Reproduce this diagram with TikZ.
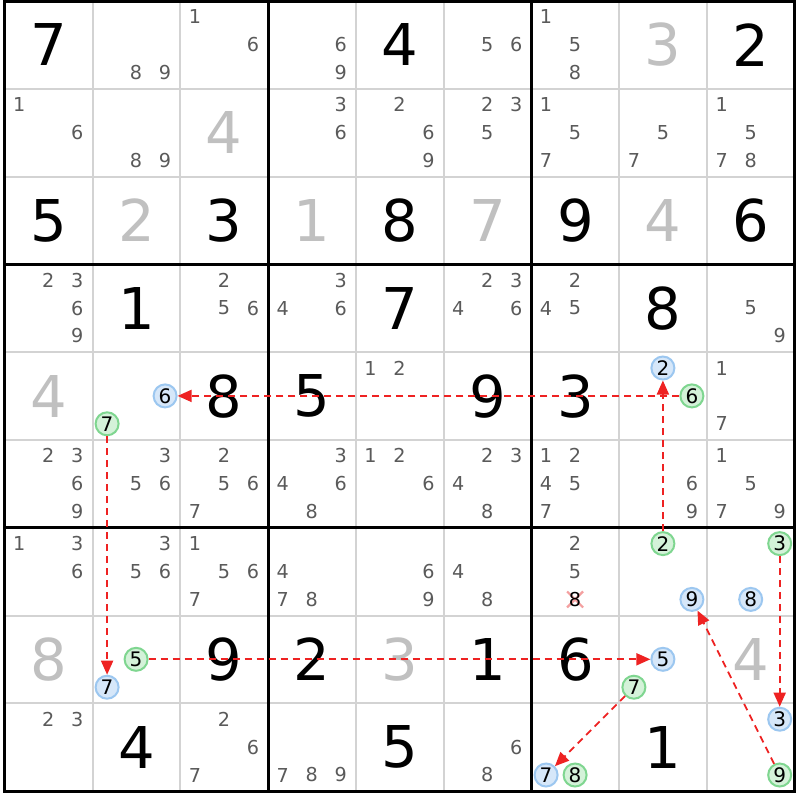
\documentclass[tikz,border=0pt]{standalone}
\usepackage{fontspec}
\setmainfont{DejaVu Sans}
\usetikzlibrary{arrows.meta}
\definecolor{candgray}{HTML}{5A5A5A}
\definecolor{solvedgray}{HTML}{C0C0C0}
\definecolor{thingrid}{HTML}{D3D3D3}
\definecolor{bluefill}{HTML}{D6E7F9}
\definecolor{blueline}{HTML}{9CC7F0}
\definecolor{greenfill}{HTML}{D4F2D9}
\definecolor{greenline}{HTML}{7FD690}
\definecolor{arrowred}{HTML}{EE2222}
\definecolor{crossred}{HTML}{F4A0A0}
\tikzset{
  cand/.style={inner sep=0pt, text=candgray, font=\fontsize{9.6}{10}\selectfont},
  given/.style={inner sep=0pt, text=black, font=\fontsize{28.8}{30}\selectfont},
  solved/.style={inner sep=0pt, text=solvedgray, font=\fontsize{28.8}{30}\selectfont},
  bluec/.style={circle, draw=blueline, fill=bluefill, line width=1pt, minimum size=11.5pt, inner sep=0pt, text=black, font=\fontsize{10}{10}\selectfont},
  greenc/.style={circle, draw=greenline, fill=greenfill, line width=1pt, minimum size=11.5pt, inner sep=0pt, text=black, font=\fontsize{10}{10}\selectfont},
  chain/.style={draw=arrowred, line width=0.9pt, dash pattern=on 3.5pt off 2.5pt, -{Triangle[length=7pt,width=6pt]}},
  thinline/.style={draw=thingrid, line width=1pt},
  thickline/.style={draw=black, line width=1.5pt},
}
\newcommand\Given[3]{\node[given] (g#1#2) at ({4.7+87.8*(#2-0.5)},{1+87.8*(#1-0.5)}) {#3};}
\newcommand\Solved[3]{\node[solved] (s#1#2) at ({4.7+87.8*(#2-0.5)},{1+87.8*(#1-0.5)}) {#3};}
\newcommand\Cands[3]{\foreach \k in {#3}{\node[cand] (c#1#2\k) at ({4.7+87.8*(#2-1)+14.6+29*mod(\k-1,3)},{1+87.8*(#1-1)+15.8+27.9*floor((\k-1)/3)}) {\k};}}
\newcommand\Circ[4]{\node[#4] (p#1#2#3) at ({4.7+87.8*(#2-1)+14.6+29*mod(#3-1,3)},{1+87.8*(#1-1)+15.8+27.9*floor((#3-1)/3)}) {#3};}
\begin{document}
\begin{tikzpicture}[x=0.5pt,y=-0.5pt]
\useasboundingbox (0,0) rectangle (800,800);
\fill[white] (0,0) rectangle (800,800);
% thin grid
\foreach \i in {1,2,4,5,7,8}{
  \draw[thinline] ({4.7+87.8*\i},1) -- ({4.7+87.8*\i},791.2);
  \draw[thinline] (4.7,{1+87.8*\i}) -- (794.9,{1+87.8*\i});
}
% thick grid
\foreach \i in {3,6}{
  \draw[thickline] ({4.7+87.8*\i},1) -- ({4.7+87.8*\i},791.2);
  \draw[thickline] (4.7,{1+87.8*\i}) -- (794.9,{1+87.8*\i});
}
\draw[thickline] (4.7,1) rectangle (794.9,791.2);
% row 1
\Given{1}{1}{7} \Cands{1}{2}{8,9} \Cands{1}{3}{1,6} \Cands{1}{4}{6,9} \Given{1}{5}{4}
\Cands{1}{6}{5,6} \Cands{1}{7}{1,5,8} \Solved{1}{8}{3} \Given{1}{9}{2}
% row 2
\Cands{2}{1}{1,6} \Cands{2}{2}{8,9} \Solved{2}{3}{4} \Cands{2}{4}{3,6} \Cands{2}{5}{2,6,9}
\Cands{2}{6}{2,3,5} \Cands{2}{7}{1,5,7} \Cands{2}{8}{5,7} \Cands{2}{9}{1,5,7,8}
% row 3
\Given{3}{1}{5} \Solved{3}{2}{2} \Given{3}{3}{3} \Solved{3}{4}{1} \Given{3}{5}{8}
\Solved{3}{6}{7} \Given{3}{7}{9} \Solved{3}{8}{4} \Given{3}{9}{6}
% row 4
\Cands{4}{1}{2,3,6,9} \Given{4}{2}{1} \Cands{4}{3}{2,5,6} \Cands{4}{4}{3,4,6} \Given{4}{5}{7}
\Cands{4}{6}{2,3,4,6} \Cands{4}{7}{2,4,5} \Given{4}{8}{8} \Cands{4}{9}{5,9}
% row 5
\Solved{5}{1}{4} \Circ{5}{2}{6}{bluec} \Circ{5}{2}{7}{greenc} \Given{5}{3}{8} \Given{5}{4}{5}
\Cands{5}{5}{1,2} \Given{5}{6}{9} \Given{5}{7}{3} \Circ{5}{8}{2}{bluec} \Circ{5}{8}{6}{greenc}
\Cands{5}{9}{1,7}
% row 6
\Cands{6}{1}{2,3,6,9} \Cands{6}{2}{3,5,6} \Cands{6}{3}{2,5,6,7} \Cands{6}{4}{3,4,6,8}
\Cands{6}{5}{1,2,6} \Cands{6}{6}{2,3,4,8} \Cands{6}{7}{1,2,4,5,7} \Cands{6}{8}{6,9}
\Cands{6}{9}{1,5,7,9}
% row 7
\Cands{7}{1}{1,3,6} \Cands{7}{2}{3,5,6} \Cands{7}{3}{1,5,6,7} \Cands{7}{4}{4,7,8}
\Cands{7}{5}{6,9} \Cands{7}{6}{4,8} \Cands{7}{7}{2,5}
\coordinate (x778pos) at ({4.7+87.8*6+14.6+29},{1+87.8*6+15.8+27.9*2});
\draw[crossred, line width=1.1pt] ([xshift=-4pt,yshift=-4pt]x778pos) -- ([xshift=4pt,yshift=4pt]x778pos);
\draw[crossred, line width=1.1pt] ([xshift=-4pt,yshift=4pt]x778pos) -- ([xshift=4pt,yshift=-4pt]x778pos);
\node[cand,text=black] (x778) at (x778pos) {8};
\Circ{7}{8}{2}{greenc} \Circ{7}{8}{9}{bluec} \Circ{7}{9}{3}{greenc} \Circ{7}{9}{8}{bluec}
% row 8
\Solved{8}{1}{8} \Circ{8}{2}{5}{greenc} \Circ{8}{2}{7}{bluec} \Given{8}{3}{9} \Given{8}{4}{2}
\Solved{8}{5}{3} \Given{8}{6}{1} \Given{8}{7}{6} \Circ{8}{8}{5}{bluec} \Circ{8}{8}{7}{greenc}
\Solved{8}{9}{4}
% row 9
\Cands{9}{1}{2,3} \Given{9}{2}{4} \Cands{9}{3}{2,6,7} \Cands{9}{4}{7,8,9} \Given{9}{5}{5}
\Cands{9}{6}{6,8} \Circ{9}{7}{7}{bluec} \Circ{9}{7}{8}{greenc} \Given{9}{8}{1}
\Circ{9}{9}{3}{bluec} \Circ{9}{9}{9}{greenc}
% chains
\draw[chain] (p782) -- (p582);
\draw[chain] (p586) -- (p526);
\draw[chain] (p527) -- (p827);
\draw[chain] (p825) -- (p885);
\draw[chain] (p887) -- (p977);
\draw[chain] (p999) -- (p789);
\draw[chain] (p793) -- (p993);
\end{tikzpicture}
\end{document}
